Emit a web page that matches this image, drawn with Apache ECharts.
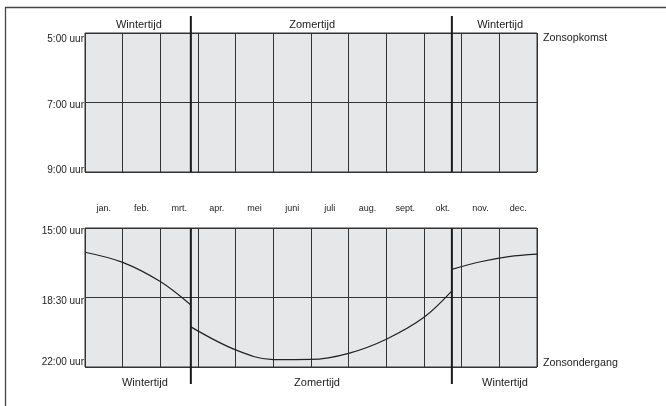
<!DOCTYPE html>
<html>
<head>
<meta charset="utf-8">
<script src="https://cdn.jsdelivr.net/npm/echarts@6/dist/echarts.min.js"></script>
<style>
  html, body { margin: 0; padding: 0; background: #fff; }
  #main { width: 666px; height: 406px; }
</style>
</head>
<body>
<div id="main"></div>
<script>
// maanden (kolommen)
const months = ["jan.", "feb.", "mrt.", "apr.", "mei", "juni", "juli", "aug.", "sept.", "okt.", "nov.", "dec."];

// overgang winter/zomertijd, in maanden vanaf 1 jan.
const dstMonths = [2.81, 9.74];

// tekst boven en onder de panelen (positie in maanden)
const periodNames = ["Wintertijd", "Zomertijd", "Wintertijd"];
const topLabelX = [1.43, 6.03, 11.02];
const bottomLabelX = [1.59, 6.16, 11.15];

// y-assen: begin, eind en stap in uren
const riseAxis = [5, 9, 2];
const setAxis = [15, 22, 3.5];

// zonsondergang (uren, decimaal) per stuk, zomertijd ertussen
const winter1X = [0, 1, 2, 2.81];
const winter1T = [16.22, 16.73, 17.70, 18.88];
const summerX = [2.81, 4, 5, 6, 7, 8, 9, 9.74];
const summerT = [19.98, 21.14, 21.63, 21.62, 21.31, 20.60, 19.50, 18.17];
const winter2X = [9.74, 10.5, 11.25, 12];
const winter2T = [17.08, 16.70, 16.44, 16.32];

const font = "'Liberation Sans', Arial, sans-serif";
const ink = "#222";
const gridColor = "#333";

function clock(h) {
  const hh = Math.floor(h + 1e-6);
  const mm = Math.round((h - hh) * 60);
  return hh + ":" + (mm < 10 ? "0" + mm : mm) + " uur";
}

// labels iets verschoven zoals in het origineel
function timeLabel(base, v, max) {
  const txt = clock(base + v);
  if (v === 0) return "{a|" + txt + "}";
  if (v === max) return "{c|" + txt + "}";
  return "{b|" + txt + "}";
}

function seg(xs, ts) {
  return xs.map((x, i) => [x, ts[i] - setAxis[0]]);
}

const myChart = echarts.init(document.getElementById("main"));

const catAxis = (grid, showLabel) => ({
  type: "category",
  gridIndex: grid,
  data: months,
  position: "top",
  boundaryGap: true,
  axisLine: { show: false },
  axisTick: { show: false },
  axisLabel: {
    show: showLabel,
    margin: 15,
    fontSize: 9,
    color: ink,
    fontFamily: font,
  },
  splitLine: { show: true, lineStyle: { color: gridColor, width: 1 } },
});

const valX = (grid) => ({
  type: "value",
  gridIndex: grid,
  min: 0,
  max: 12,
  show: false,
});

const yAx = (grid, ax, pad) => ({
  type: "value",
  gridIndex: grid,
  inverse: true,
  min: 0,
  max: ax[1] - ax[0],
  interval: ax[2],
  axisLine: { show: false },
  axisTick: { show: false },
  splitLine: { show: true, lineStyle: { color: gridColor, width: 1 } },
  axisLabel: {
    margin: 1,
    fontSize: 10,
    color: ink,
    fontFamily: font,
    formatter: (v) => timeLabel(ax[0], v, ax[1] - ax[0]),
    rich: {
      a: { fontSize: 10, fontFamily: font, color: ink, padding: [pad[0], 0, 0, 0] },
      b: { fontSize: 10, fontFamily: font, color: ink, padding: [pad[1], 0, 0, 0] },
      c: { fontSize: 10, fontFamily: font, color: ink, padding: [0, 0, pad[2], 0] },
    },
  },
});

// dikke lijn bij de tijdsovergang, steekt buiten het paneel uit
const dstSeries = (xi, yi, ymax, up) => ({
  type: "custom",
  xAxisIndex: xi,
  yAxisIndex: yi,
  silent: true,
  data: dstMonths.map((m) => [m, 0]),
  renderItem: (params, api) => {
    const a = api.coord([api.value(0), 0]);
    const b = api.coord([api.value(0), ymax]);
    return {
      type: "line",
      shape: { x1: a[0], y1: a[1] - (up ? 17 : 0), x2: b[0], y2: b[1] + (up ? 0 : 17) },
      style: { stroke: "#1a1a1a", lineWidth: 2 },
    };
  },
});

const periodSeries = (xi, yi, xs, ymax, up) => ({
  type: "custom",
  xAxisIndex: xi,
  yAxisIndex: yi,
  silent: true,
  data: xs.map((x, i) => [x, 0, i]),
  renderItem: (params, api) => {
    const p = api.coord([api.value(0), up ? 0 : ymax]);
    return {
      type: "text",
      x: p[0],
      y: p[1] + (up ? -8 : 16),
      style: {
        text: periodNames[api.value(2)],
        fill: ink,
        font: "11px " + font,
        align: "center",
        verticalAlign: "middle",
      },
    };
  },
});

const lineStyle = { color: ink, width: 1.2 };
const sunset = (xs, ts) => ({
  type: "line",
  xAxisIndex: 3,
  yAxisIndex: 1,
  data: seg(xs, ts),
  smooth: 0.35,
  symbol: "none",
  silent: true,
  lineStyle: lineStyle,
});

const option = {
  animation: false,
  textStyle: { fontFamily: font },
  graphic: [
    {
      type: "rect",
      shape: { x: 5.5, y: 7.5, width: 700, height: 500 },
      style: { fill: "none", stroke: "#444", lineWidth: 1.3 },
      silent: true,
    },
    {
      type: "text",
      x: 543,
      y: 38,
      style: { text: "Zonsopkomst", fill: ink, font: "10.7px " + font, verticalAlign: "middle" },
    },
    {
      type: "text",
      x: 543,
      y: 363,
      style: { text: "Zonsondergang", fill: ink, font: "10.7px " + font, verticalAlign: "middle" },
    },
  ],
  grid: [
    { left: 85, right: 129, top: 33, height: 139, show: true, backgroundColor: "#e6e7e9", borderColor: gridColor, borderWidth: 1 },
    { left: 85, right: 129, top: 228, height: 139, show: true, backgroundColor: "#e6e7e9", borderColor: gridColor, borderWidth: 1 },
  ],
  xAxis: [catAxis(0, false), valX(0), catAxis(1, true), valX(1)],
  yAxis: [yAx(0, riseAxis, [12, 6, 4]), yAx(1, setAxis, [6, 8, 10])],
  series: [
    sunset(winter1X, winter1T),
    sunset(summerX, summerT),
    sunset(winter2X, winter2T),
    dstSeries(1, 0, riseAxis[1] - riseAxis[0], true),
    dstSeries(3, 1, setAxis[1] - setAxis[0], false),
    periodSeries(1, 0, topLabelX, riseAxis[1] - riseAxis[0], true),
    periodSeries(3, 1, bottomLabelX, setAxis[1] - setAxis[0], false),
  ],
};

myChart.setOption(option);
</script>
</body>
</html>
